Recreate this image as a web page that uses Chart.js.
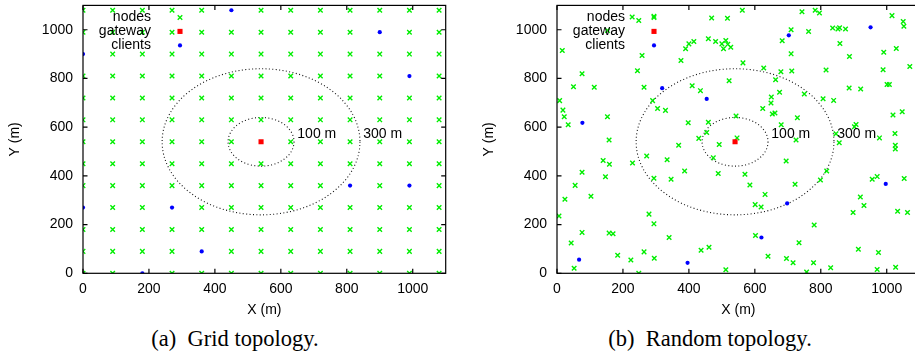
<!DOCTYPE html>
<html>
<head>
<meta charset="utf-8">
<script src="https://cdn.jsdelivr.net/npm/chart.js@4.4.1/dist/chart.umd.min.js"></script>
<style>
  html, body { margin: 0; padding: 0; background: #fff; }
  body { width: 915px; height: 354px; overflow: hidden; position: relative; }
  .pane { position: absolute; top: 0; }
  canvas { display: block; }
  .cap { position: absolute; top: 326px; width: 340px; text-align: center;
         font: 22.5px "Liberation Serif", "DejaVu Serif", serif; line-height: 26px; color: #000; white-space: nowrap; }
</style>
</head>
<body>
<div class="pane" style="left:0px"><canvas id="cGrid" width="460" height="320"></canvas></div>
<div class="pane" style="left:474px"><canvas id="cRand" width="460" height="320"></canvas></div>
<div class="cap" style="left:65px">(a)&ensp;Grid topology.</div>
<div class="cap" style="left:540px">(b)&ensp;Random topology.</div>
<script>
"use strict";
/* Two topologies side by side: regular grid vs random placement of mesh nodes,
   one gateway in the middle and ten clients, with 100 m / 300 m rings round the gateway. */
const FONT = '"Liberation Sans", Arial, sans-serif';

// grid topology: node rows/columns (m)
const gridCols = [0, 90, 180, 270, 360, 450, 540, 630, 720, 810, 900, 990, 1080];
const gridRows = [0, 90, 180, 270, 360, 450, 540, 630, 720, 810, 900, 990, 1080];
const gridClients = [[0,900],[0,270],[180,0],[270,270],[360,90],[450,1080],[900,990],[990,810],[810,360],[990,360]];

// random topology: nodes (m)
const randNodes = [
  [228,1052],[248,1038],[294,1055],[469,1048],[517,1047],[153,997],
  [16,915],[390,922],[400,942],[415,952],[459,963],[481,952],[500,942],[505,922],[512,956],[518,940],[527,928],
  [258,894],[376,874],[244,832],[76,819],[50,766],[113,764],[264,764],[410,770],[435,750],[522,791],
  [8,709],[290,709],[18,670],[305,677],[329,669],[22,643],[34,610],[153,643],[398,618],[459,620],[454,578],[430,554],[158,547],
  [562,1080],[743,1074],[783,1080],[796,1069],[1016,1058],[1050,1034],[1052,1014],
  [710,1000],[763,993],[836,1007],[852,1003],[857,1008],[875,1003],
  [683,955],[858,944],[710,901],[991,908],[1029,923],[887,890],
  [564,864],[1070,849],[627,843],[679,828],[712,831],[816,835],[989,836],
  [663,795],[675,743],[750,736],[886,761],[921,757],[1001,775],[1008,775],
  [650,724],[649,699],[807,717],[839,710],[624,677],[653,654],[661,658],[1047,663],[1019,650],[543,646],[729,639],[680,610],[907,611],[902,602],
  [546,556],[846,573],[1025,574],[978,556],[725,547],
  [140,463],[159,448],[76,415],[147,396],[55,361],[24,304],[103,316],[6,235],[76,168],[158,165],[170,162],[43,124],[184,74],[224,55],[52,21],[248,0],
  [229,453],[272,482],[334,466],[369,526],[492,529],[474,474],[489,410],[387,420],[294,390],[346,386],[279,243],[294,203],[340,147],[264,88],[295,62],[437,95],[461,107],[512,15],
  [856,536],[1026,526],[1026,510],[695,461],[818,420],[570,407],[799,383],[585,363],[722,366],[956,386],[971,397],[1053,389],
  [631,324],[920,313],[601,282],[619,272],[931,278],[898,250],[1033,255],[1063,250],[780,198],[602,155],[734,125],
  [914,99],[975,85],[640,70],[696,61],[716,43],[778,43],[830,23],[757,5],[971,16],[1027,25]
];
const randClients = [[77,618],[319,760],[454,716],[703,977],[951,1010],[67,56],[396,43],[997,367],[698,287],[620,147]];

const gateway = [[540,540]];
const ringRadii = [100, 300];
const ringLabels = ["100 m", "300 m"];
const ringLabelX = [650, 850];
const ringLabelY = 570;
const legendNames = ["nodes", "gateway", "clients"];
const axisMax = 1100;

const pts = a => a.map(p => ({ x: p[0], y: p[1] }));
// grid sites taken by a client or the gateway hold no plain node
const taken = gridClients.concat(gateway).map(p => p[0] + "," + p[1]);
const gridNodes = [];
gridRows.forEach(y => gridCols.forEach(x => { if(taken.indexOf(x + "," + y) < 0) gridNodes.push({ x, y }); }));

function sym(ctx, ds, x, y){
  ctx.save();
  if(ds.pointStyle === "crossRot"){
    const h = ds.pointRadius * Math.SQRT1_2;
    ctx.strokeStyle = ds.borderColor; ctx.lineWidth = ds.borderWidth;
    ctx.beginPath();
    ctx.moveTo(x - h, y - h); ctx.lineTo(x + h, y + h);
    ctx.moveTo(x - h, y + h); ctx.lineTo(x + h, y - h);
    ctx.stroke();
  } else if(ds.pointStyle === "rect"){
    const s = ds.pointRadius * Math.SQRT1_2;
    ctx.fillStyle = ds.backgroundColor; ctx.fillRect(x - s, y - s, 2*s, 2*s);
  } else {
    ctx.fillStyle = ds.backgroundColor;
    ctx.beginPath(); ctx.arc(x, y, ds.pointRadius, 0, 2*Math.PI); ctx.fill();
  }
  ctx.restore();
}

const decor = {
  id: "decor",
  beforeDatasetsDraw(chart){
    const { ctx, scales: { x, y } } = chart;
    ctx.save();
    // rings round the gateway
    ctx.strokeStyle = "#111"; ctx.lineWidth = 1.1; ctx.setLineDash([1, 2.4]);
    const cx = x.getPixelForValue(gateway[0][0]), cy = y.getPixelForValue(gateway[0][1]);
    ringRadii.forEach(r => {
      const rx = x.getPixelForValue(gateway[0][0] + r) - cx, ry = cy - y.getPixelForValue(gateway[0][1] + r);
      ctx.beginPath(); ctx.ellipse(cx, cy, rx, ry, 0, 0, 2*Math.PI); ctx.stroke();
    });
    ctx.restore();
  },
  afterDatasetsDraw(chart){
    const { ctx, chartArea: a, scales: { x, y } } = chart;
    ctx.save();
    // frame + inward ticks on all four sides
    ctx.strokeStyle = "#000"; ctx.lineWidth = 1.2; ctx.setLineDash([]);
    ctx.strokeRect(a.left, a.top, a.right - a.left, a.bottom - a.top);
    const tl = 4.5;
    ctx.beginPath();
    x.ticks.forEach(t => {
      const px = x.getPixelForValue(t.value);
      ctx.moveTo(px, a.bottom); ctx.lineTo(px, a.bottom - tl);
      ctx.moveTo(px, a.top); ctx.lineTo(px, a.top + tl);
    });
    y.ticks.forEach(t => {
      const py = y.getPixelForValue(t.value);
      ctx.moveTo(a.left, py); ctx.lineTo(a.left + tl, py);
      ctx.moveTo(a.right, py); ctx.lineTo(a.right - tl, py);
    });
    ctx.stroke();
    // ring labels
    ctx.fillStyle = "#000"; ctx.font = "14px " + FONT; ctx.textBaseline = "middle"; ctx.textAlign = "left";
    ringLabels.forEach((s, i) => ctx.fillText(s, x.getPixelForValue(ringLabelX[i]), y.getPixelForValue(ringLabelY)));
    // gnuplot-style key: text right-aligned, symbol after it
    ctx.textAlign = "right";
    chart.data.datasets.forEach((ds, i) => {
      const ly = a.top + 12 + i * 14;
      ctx.fillStyle = "#000";
      ctx.fillText(legendNames[i], a.left + 68, ly);
      sym(ctx, ds, a.left + 97, ly);
    });
    ctx.restore();
  }
};

function axis(pos, label){
  const horiz = pos === "bottom";
  return {
    type: "linear", position: pos, min: 0, max: axisMax,
    ticks: { stepSize: 200, includeBounds: false, padding: horiz ? 7 : 10, color: "#000",
             font: { family: FONT, size: 14 }, maxRotation: 0, autoSkip: false, callback: v => String(v) },
    grid: { display: false, drawTicks: false }, border: { display: false },
    title: { display: true, text: label, color: "#000", font: { family: FONT, size: 14 },
             padding: horiz ? { top: 0, bottom: 1 } : { top: 7, bottom: 0 } },
    afterFit: s => {
      if(horiz) s.height = 46.7; else s.width = 83;
      s.paddingTop = s.paddingBottom = s.paddingLeft = s.paddingRight = 0;
    }
  };
}

function topo(id, nodes, clients){
  new Chart(document.getElementById(id), {
    type: "scatter",
    data: { datasets: [
      { label: "nodes", data: nodes, pointStyle: "crossRot", pointRadius: 3.2, borderColor: "#00ee00",
        backgroundColor: "#00ee00", borderWidth: 1.4, order: 3 },
      { label: "gateway", data: pts(gateway), pointStyle: "rect", pointRadius: 3.6, borderColor: "#ff0000",
        backgroundColor: "#ff0000", borderWidth: 0, order: 1 },
      { label: "clients", data: pts(clients), pointStyle: "circle", pointRadius: 2.1, borderColor: "#0000ff",
        backgroundColor: "#0000ff", borderWidth: 0, order: 2 }
    ]},
    options: {
      responsive: false, animation: false, events: [],
      layout: { padding: { left: 0, top: 5, right: 14.3, bottom: 0 } },
      plugins: { legend: { display: false }, tooltip: { enabled: false } },
      scales: { x: axis("bottom", "X (m)"), y: axis("left", "Y (m)") }
    },
    plugins: [decor]
  });
}

topo("cGrid", gridNodes, gridClients);
topo("cRand", pts(randNodes), randClients);
</script>
</body>
</html>
